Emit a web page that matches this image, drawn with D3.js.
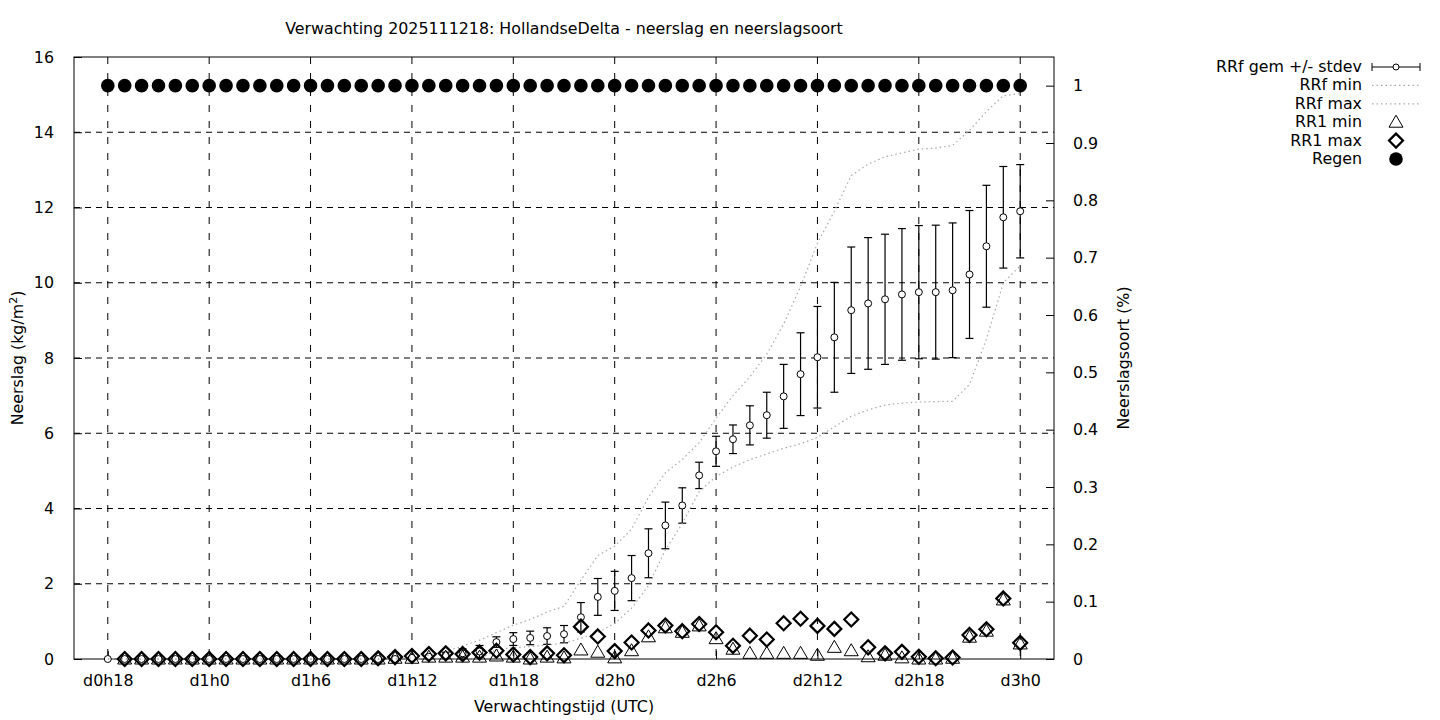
<!DOCTYPE html>
<html>
<head>
<meta charset="utf-8">
<script src="https://cdn.jsdelivr.net/npm/d3@7"></script>
<style>
  body { margin: 0; background: #fff; }
  text { font-family: "DejaVu Sans", sans-serif; font-size: 15.85px; fill: #000; }
</style>
</head>
<body>
<div id="target"></div>
<script>
// forecast hours (h since d0h0)
const hours = [18, 19, 20, 21, 22, 23, 24, 25, 26, 27, 28, 29, 30, 31, 32, 33, 34, 35,
  36, 37, 38, 39, 40, 41, 42, 43, 44, 45, 46, 47, 48, 49, 50, 51, 52, 53, 54, 55,
  56, 57, 58, 59, 60, 61, 62, 63, 64, 65, 66, 67, 68, 69, 70, 71, 72];
const tickHours = [18, 24, 30, 36, 42, 48, 54, 60, 66, 72];
const leftTicks = [0, 2, 4, 6, 8, 10, 12, 14, 16];
const rightTicks = [0, 0.1, 0.2, 0.3, 0.4, 0.5, 0.6, 0.7, 0.8, 0.9, 1];

const rrfMean = [0, 0, 0, 0, 0, 0, 0, 0, 0, 0, 0, 0, 0, 0, 0, 0, 0, 0,
  0.03, 0.06, 0.1, 0.15, 0.2, 0.45, 0.53, 0.56, 0.61, 0.66, 1.11, 1.65, 1.81, 2.15, 2.81, 3.55, 4.08, 4.88, 5.52, 5.84,
  6.21, 6.48, 6.98, 7.57, 8.02, 8.55, 9.27, 9.45, 9.56, 9.69, 9.75, 9.75, 9.8, 10.22, 10.97, 11.74, 11.9];
const rrfStd = [0, 0, 0, 0, 0, 0, 0, 0, 0, 0, 0, 0, 0, 0, 0, 0, 0, 0,
  0.03, 0.05, 0.08, 0.12, 0.16, 0.14, 0.17, 0.18, 0.22, 0.23, 0.39, 0.49, 0.52, 0.6, 0.65, 0.62, 0.47, 0.35, 0.4, 0.38,
  0.52, 0.61, 0.85, 1.1, 1.35, 1.46, 1.68, 1.75, 1.73, 1.75, 1.77, 1.78, 1.79, 1.7, 1.62, 1.35, 1.24];
const rrfMin = [0, 0, 0, 0, 0, 0, 0, 0, 0, 0, 0, 0, 0, 0, 0, 0, 0, 0,
  0, 0, 0, 0, 0, 0.25, 0.3, 0.33, 0.37, 0.42, 0.55, 0.7, 0.95, 1.35, 1.95, 2.9, 3.6, 4.45, 4.85, 5.1,
  5.3, 5.45, 5.6, 5.72, 5.89, 6.17, 6.45, 6.62, 6.75, 6.8, 6.83, 6.84, 6.85, 7.3, 8.5, 10.0, 10.45];
const rrfMax = [0, 0, 0, 0, 0, 0, 0, 0, 0, 0, 0, 0, 0, 0, 0, 0, 0, 0,
  0.05, 0.1, 0.2, 0.35, 0.5, 0.7, 0.9, 1.05, 1.25, 1.4, 2.1, 2.75, 3.0, 3.45, 4.3, 4.95, 5.3, 5.75, 6.4, 7.0,
  7.5, 8.1, 8.9, 9.9, 11.05, 11.9, 12.85, 13.15, 13.35, 13.45, 13.55, 13.58, 13.65, 14.05, 14.55, 14.97, 15.03];
const rr1Min = [null, 0, 0, 0, 0, 0, 0, 0, 0, 0, 0, 0, 0, 0, 0, 0, 0, 0.02,
  0.02, 0.05, 0.05, 0.05, 0.05, 0.08, 0.05, 0, 0.05, 0.03, 0.24, 0.18, 0.03, 0.22, 0.59, 0.83, 0.71, 0.88, 0.54, 0.26,
  0.15, 0.15, 0.15, 0.15, 0.1, 0.31, 0.22, 0.06, 0.1, 0.03, 0, 0, 0.02, 0.58, 0.74, 1.57, 0.4];
const rr1Max = [null, 0, 0, 0, 0, 0, 0, 0, 0, 0, 0, 0, 0, 0, 0, 0, 0.02, 0.05,
  0.08, 0.13, 0.15, 0.13, 0.17, 0.22, 0.12, 0.05, 0.15, 0.1, 0.86, 0.6, 0.21, 0.44, 0.76, 0.89, 0.74, 0.93, 0.71, 0.35,
  0.62, 0.52, 0.95, 1.07, 0.88, 0.8, 1.05, 0.31, 0.15, 0.19, 0.06, 0.02, 0.04, 0.64, 0.79, 1.61, 0.43];
const regen = [1, 1, 1, 1, 1, 1, 1, 1, 1, 1, 1, 1, 1, 1, 1, 1, 1, 1,
  1, 1, 1, 1, 1, 1, 1, 1, 1, 1, 1, 1, 1, 1, 1, 1, 1, 1, 1, 1,
  1, 1, 1, 1, 1, 1, 1, 1, 1, 1, 1, 1, 1, 1, 1, 1, 1];

function chart() {
  const width = 1440, height = 720;
  const pLeft = 74, pRight = 1054, pTop = 57, pBottom = 659;
  const fs = "15.85px";

  const svg = d3.select("#target").append("svg")
    .attr("width", width)
    .attr("height", height);

  const x = d3.scaleLinear().domain([16, 74]).range([pLeft, pRight]);
  const y = d3.scaleLinear().domain([0, 16]).range([pBottom, pTop]);
  const y2 = d3.scaleLinear().domain([0, 1.05]).range([pBottom, pTop]);

  const data = hours.map((h, i) => ({
    h: h, mean: rrfMean[i], sd: rrfStd[i], min: rrfMin[i], max: rrfMax[i],
    r1min: rr1Min[i], r1max: rr1Max[i], regen: regen[i]
  }));

  // grid
  svg.append("g").selectAll("line")
    .data(leftTicks.filter(d => d > 0 && d < 16))
    .enter().append("line")
    .attr("x1", pLeft).attr("x2", pRight)
    .attr("y1", d => y(d)).attr("y2", d => y(d))
    .attr("stroke", "#000").attr("stroke-width", 1)
    .attr("stroke-dasharray", "6,5");
  svg.append("g").selectAll("line")
    .data(tickHours)
    .enter().append("line")
    .attr("x1", d => x(d)).attr("x2", d => x(d))
    .attr("y1", pTop).attr("y2", pBottom)
    .attr("stroke", "#000").attr("stroke-width", 1)
    .attr("stroke-dasharray", "7,9");

  // axes
  const fmtHour = h => `d${Math.floor(h / 24)}h${h % 24}`;
  const xAxis = d3.axisBottom(x).tickValues(tickHours).tickFormat(fmtHour)
    .tickSizeInner(-8).tickSizeOuter(0).tickPadding(16);
  svg.append("g").attr("transform", `translate(0,${pBottom})`).call(xAxis);
  const yAxis = d3.axisLeft(y).tickValues(leftTicks).tickSizeInner(-8).tickSizeOuter(0).tickPadding(20);
  svg.append("g").attr("transform", `translate(${pLeft},0)`).call(yAxis);
  const y2Axis = d3.axisRight(y2).tickValues(rightTicks)
    .tickFormat(d => (d === 0 || d === 1) ? String(d) : d.toFixed(1))
    .tickSizeInner(-8).tickSizeOuter(0).tickPadding(19);
  svg.append("g").attr("transform", `translate(${pRight},0)`).call(y2Axis);
  svg.selectAll(".domain").remove();
  svg.selectAll(".tick line").attr("stroke", "#000");
  svg.selectAll(".tick text").style("font-size", fs).style("font-family", "DejaVu Sans");

  svg.append("rect")
    .attr("x", pLeft).attr("y", pTop)
    .attr("width", pRight - pLeft).attr("height", pBottom - pTop)
    .attr("fill", "none").attr("stroke", "#000").attr("stroke-width", 1);

  // error bars + mean
  const eb = svg.append("g").attr("stroke", "#000").attr("stroke-width", 1.2);
  data.forEach(d => {
    if (d.sd <= 0) return;
    eb.append("line").attr("x1", x(d.h)).attr("x2", x(d.h))
      .attr("y1", y(Math.max(0, d.mean - d.sd))).attr("y2", y(d.mean + d.sd));
    eb.append("line").attr("x1", x(d.h) - 4).attr("x2", x(d.h) + 4)
      .attr("y1", y(d.mean + d.sd)).attr("y2", y(d.mean + d.sd));
    if (d.mean - d.sd > 0) {
      eb.append("line").attr("x1", x(d.h) - 4).attr("x2", x(d.h) + 4)
        .attr("y1", y(d.mean - d.sd)).attr("y2", y(d.mean - d.sd));
    }
  });
  svg.append("g").selectAll("circle")
    .data(data)
    .enter().append("circle")
    .attr("cx", d => x(d.h)).attr("cy", d => y(d.mean)).attr("r", 3.5)
    .attr("fill", "#fff").attr("stroke", "#000").attr("stroke-width", 1);

  // min / max lines
  const dotted = key => d3.line().x(d => x(d.h)).y(d => y(d[key]));
  ["min", "max"].forEach(k => {
    svg.append("path").datum(data)
      .attr("d", dotted(k))
      .attr("fill", "none").attr("stroke", "#a8a8a8")
      .attr("stroke-width", 1.2).attr("stroke-dasharray", "1.5,3");
  });

  // symbols
  const tri = (cx, cy) => `M${cx},${cy - 7}L${cx + 7},${cy + 5}L${cx - 7},${cy + 5}Z`;
  const dia = (cx, cy) => `M${cx},${cy - 7}L${cx + 7},${cy}L${cx},${cy + 7}L${cx - 7},${cy}Z`;

  svg.append("g").selectAll("path")
    .data(data.filter(d => d.r1min !== null))
    .enter().append("path")
    .attr("d", d => tri(x(d.h), y(d.r1min)))
    .attr("fill", "none").attr("stroke", "#000").attr("stroke-width", 1);
  svg.append("g").selectAll("path")
    .data(data.filter(d => d.r1max !== null))
    .enter().append("path")
    .attr("d", d => dia(x(d.h), y(d.r1max)))
    .attr("fill", "none").attr("stroke", "#000").attr("stroke-width", 2.2);
  svg.append("g").selectAll("circle")
    .data(data)
    .enter().append("circle")
    .attr("cx", d => x(d.h)).attr("cy", d => y2(d.regen)).attr("r", 6.8)
    .attr("fill", "#000");

  // titles
  svg.append("text").attr("x", 564).attr("y", 34).attr("text-anchor", "middle")
    .text("Verwachting 2025111218: HollandseDelta - neerslag en neerslagsoort");
  svg.append("text").attr("x", 564).attr("y", 712).attr("text-anchor", "middle")
    .text("Verwachtingstijd (UTC)");
  const yl = svg.append("text")
    .attr("transform", "translate(23,358) rotate(-90)")
    .attr("text-anchor", "middle");
  yl.append("tspan").text("Neerslag (kg/m");
  yl.append("tspan").attr("dy", -6).style("font-size", "11px").text("2");
  yl.append("tspan").attr("dy", 6).text(")");
  svg.append("text")
    .attr("transform", "translate(1129,358) rotate(-90)")
    .attr("text-anchor", "middle")
    .text("Neerslagsoort (%)");

  // legend
  const legendNames = ["RRf gem +/- stdev", "RRf min", "RRf max", "RR1 min", "RR1 max", "Regen"];
  const lg = svg.append("g");
  legendNames.forEach((name, i) => {
    const ly = 67 + i * 18.4;
    lg.append("text").attr("x", 1362).attr("y", ly + 5).attr("text-anchor", "end").text(name);
    if (i === 0) {
      lg.append("line").attr("x1", 1372).attr("x2", 1420).attr("y1", ly).attr("y2", ly).attr("stroke", "#000");
      lg.append("line").attr("x1", 1372).attr("x2", 1372).attr("y1", ly - 4).attr("y2", ly + 4).attr("stroke", "#000");
      lg.append("line").attr("x1", 1420).attr("x2", 1420).attr("y1", ly - 4).attr("y2", ly + 4).attr("stroke", "#000");
      lg.append("circle").attr("cx", 1396).attr("cy", ly).attr("r", 3).attr("fill", "#fff").attr("stroke", "#000");
    } else if (i < 3) {
      lg.append("line").attr("x1", 1372).attr("x2", 1420).attr("y1", ly).attr("y2", ly)
        .attr("stroke", "#a8a8a8").attr("stroke-width", 1.2).attr("stroke-dasharray", "1.5,3");
    } else if (i === 3) {
      lg.append("path").attr("d", tri(1396, ly)).attr("fill", "none").attr("stroke", "#000");
    } else if (i === 4) {
      lg.append("path").attr("d", dia(1396, ly)).attr("fill", "none").attr("stroke", "#000").attr("stroke-width", 2.2);
    } else {
      lg.append("circle").attr("cx", 1396).attr("cy", ly).attr("r", 6.8).attr("fill", "#000");
    }
  });
}
chart();
</script>
</body>
</html>
